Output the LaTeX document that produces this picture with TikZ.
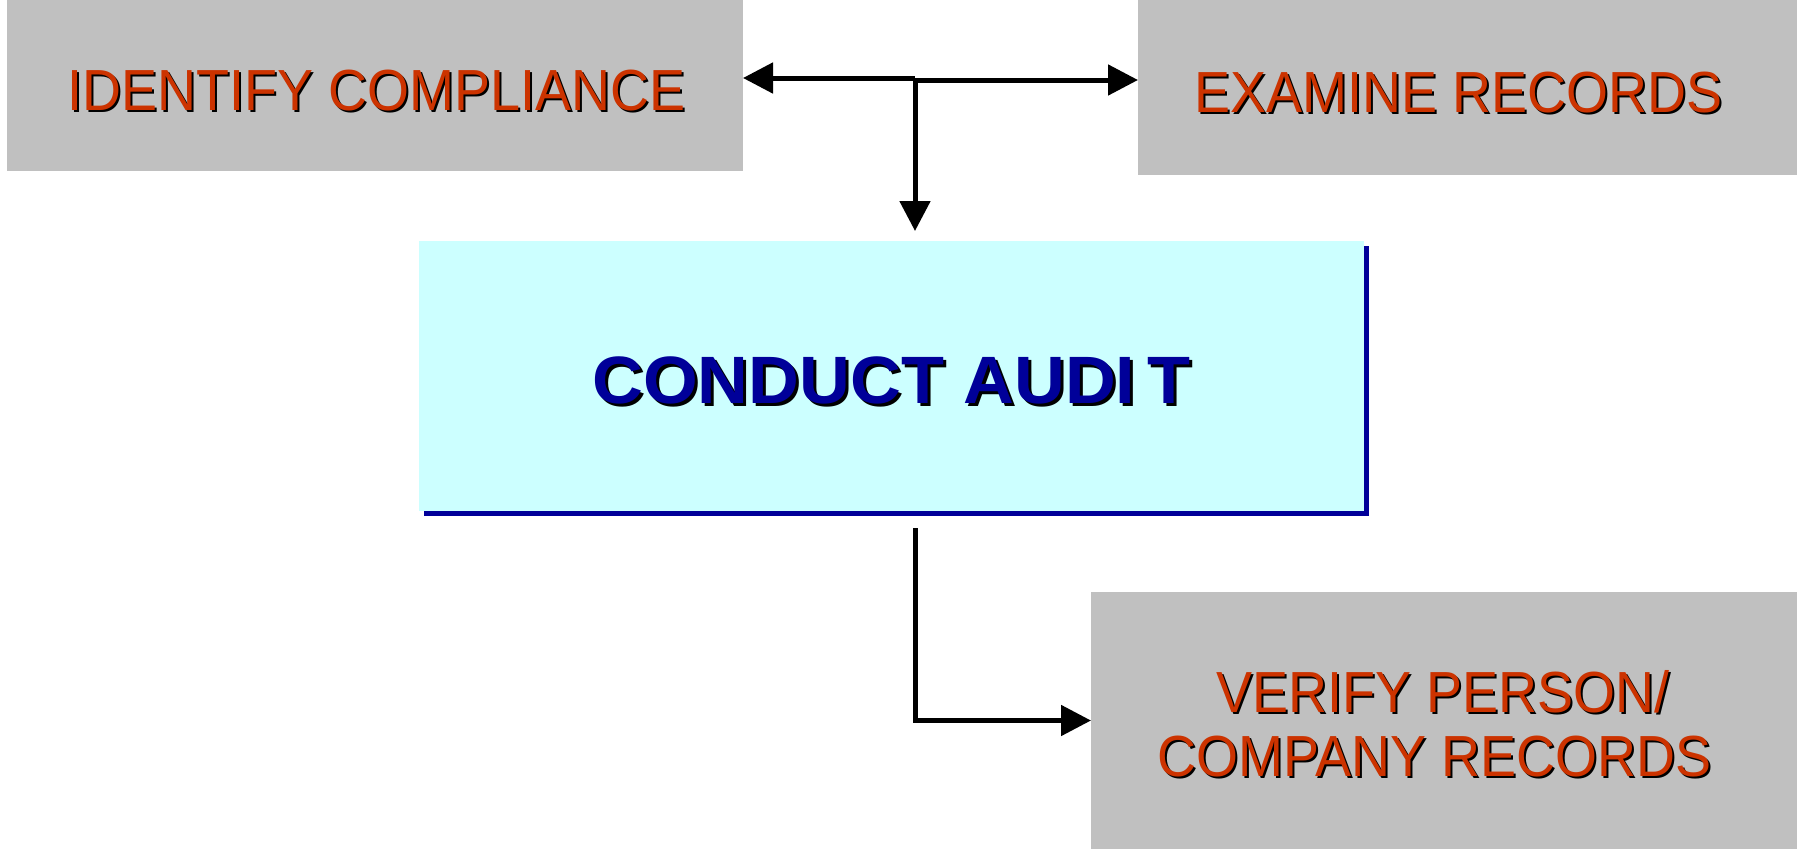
\documentclass[tikz,border=0pt]{standalone}
\usepackage{fontspec}
\setmainfont{Liberation Sans}
\newfontfamily\redfont[FakeStretch=0.93]{Liberation Sans}
\newfontfamily\bluefont[FakeStretch=1.05]{Liberation Sans Bold}
\usetikzlibrary{arrows.meta}
\definecolor{boxgray}{HTML}{C0C0C0}
\definecolor{txtred}{HTML}{CC3300}
\definecolor{auditfill}{HTML}{CCFFFF}
\definecolor{auditblue}{HTML}{000099}
\newcommand{\shad}[3]{\rlap{\hspace{#1}\raisebox{-#1}{\textcolor{black}{#3}}}\textcolor{#2}{#3}}
\tikzset{
  graybox/.style={fill=boxgray, draw=none, inner sep=0pt, outer sep=0pt},
  redlabel/.style={font=\fontsize{58}{63.5}\redfont, anchor=base, inner sep=0pt, align=center},
  conn/.style={line width=5pt, -{Triangle[length=30pt,width=30pt]}},
}
\begin{document}
\begin{tikzpicture}[x=1pt,y=-1pt]
\useasboundingbox (0,0) rectangle (1797,849);
% boxes
\node[graybox, minimum width=736pt, minimum height=171pt] (identify) at (375,85.5) {};
\node[graybox, minimum width=659pt, minimum height=175pt] (examine) at (1467.5,87.5) {};
\node[graybox, minimum width=706pt, minimum height=257pt] (verify) at (1444,720.5) {};
\fill[auditblue] (424,246) rectangle (1368.5,515.5);
\node[fill=auditfill, inner sep=0pt, outer sep=0pt, minimum width=945pt, minimum height=270pt] (conduct) at (891.5,376) {};
% texts
\node[redlabel] (tidentify) at (376.5,110) {\shad{2pt}{txtred}{IDENTIFY COMPLIANCE}};
\node[redlabel] (texamine) at (1458.5,112) {\shad{2pt}{txtred}{EXAMINE RECORDS}};
\node[redlabel] (tverify1) at (1443,712) {\shad{2pt}{txtred}{VERIFY PERSON/}};
\node[redlabel] (tverify2) at (1434.5,776) {\shad{2pt}{txtred}{COMPANY RECORDS}};
\node[font=\fontsize{67}{70}\bluefont, anchor=base, inner sep=0pt] (tconduct) at (891.5,403) {\shad{3pt}{auditblue}{CONDUCT AUDI\kern12pt T}};
% connectors
\coordinate (j) at (915,78);
\coordinate (j2) at (915,80);
\draw[conn] (j) -- (j -| identify.east);
\draw[conn] (j2) -- (j2 -| examine.west);
\draw[conn, shorten >=10pt] (j) -- (j |- conduct.north);
\draw[conn, shorten <=17pt] (j |- conduct.south) |- (verify.west);
\end{tikzpicture}
\end{document}
